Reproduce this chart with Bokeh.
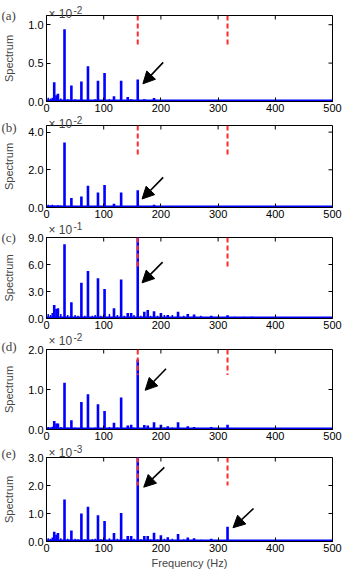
import math
from bokeh.plotting import figure
from bokeh.models import Range1d, FixedTicker, Label, Arrow, NormalHead, PrintfTickFormatter
from bokeh.layouts import column
from bokeh.embed import file_html
from bokeh.resources import INLINE

# ---------------- data ----------------
panel_tags = ["(a)", "(b)", "(c)", "(d)", "(e)"]
exponent_text = ["-2", "-2", "-1", "-2", "-3"]
y_max = [1.12, 4.35, 9.0, 2.0, 3.0]
y_ticks = [[0, 0.5, 1.0], [0, 2, 4], [0, 3, 6, 9], [0, 1, 2], [0, 1, 2, 3]]
x_ticks = [0, 100, 200, 300, 400, 500]
freq_range = [0, 500]

# harmonic peaks (Hz)
peak_freqs = [13.5, 17.5, 20, 31.5, 43.5, 61, 72.5, 90, 101.5, 118, 130.5, 142, 148,
              159.5, 171, 177, 188, 200, 212, 230, 247, 258, 288, 316.5, 359]
peaks_a = [0.25, 0.08, 0.10, 0.94, 0.21, 0.26, 0.46, 0.27, 0.37, 0.07, 0.27, 0.06, 0.03,
           0.285, 0.03, 0.02, 0.045, 0.02, 0.01, 0.02, 0.01, 0.01, 0.01, 0.01, 0.01]
peaks_b = [0.10, 0.08, 0.12, 3.45, 0.50, 0.58, 1.16, 0.80, 1.20, 0.20, 0.80, 0.05, 0.05,
           0.92, 0.03, 0.03, 0.15, 0.03, 0.02, 0.02, 0.02, 0.01, 0.01, 0.02, 0.01]
peaks_c = [1.50, 1.05, 1.15, 8.25, 1.80, 3.96, 5.27, 4.48, 3.29, 1.15, 4.33, 0.60, 0.60,
           9.50, 0.75, 0.94, 0.80, 0.60, 0.40, 0.75, 0.50, 0.45, 0.30, 0.35, 0.20]
peaks_d = [0.21, 0.15, 0.15, 1.17, 0.23, 0.69, 0.88, 0.63, 0.46, 0.17, 0.80, 0.10, 0.12,
           1.75, 0.11, 0.10, 0.18, 0.12, 0.08, 0.18, 0.08, 0.06, 0.06, 0.12, 0.03]
peaks_e = [0.35, 0.24, 0.30, 1.50, 0.39, 1.00, 1.24, 0.94, 0.73, 0.30, 1.02, 0.20, 0.20,
           3.20, 0.20, 0.20, 0.31, 0.22, 0.15, 0.27, 0.14, 0.12, 0.10, 0.53, 0.05]

# background (noise floor) components (Hz)
noise_freqs = [3, 7, 10, 25, 37, 50, 55, 67, 80, 85, 95, 110, 124, 136, 153, 165, 182,
               194, 206, 220, 240, 270, 300, 330, 345, 380, 420, 460, 490]
noise_a = [0.05, 0.04, 0.05, 0.04, 0.03, 0.03, 0.02, 0.02, 0.02, 0.03, 0.02, 0.03, 0.02,
           0.02, 0.02, 0.02, 0.02, 0.02, 0.02, 0.02, 0.01, 0.01, 0.01, 0.01, 0.01, 0.01,
           0.01, 0.01, 0.01]
noise_b = [0.15, 0.12, 0.15, 0.10, 0.08, 0.08, 0.06, 0.06, 0.06, 0.08, 0.06, 0.08, 0.06,
           0.06, 0.06, 0.05, 0.05, 0.05, 0.05, 0.05, 0.04, 0.04, 0.04, 0.04, 0.04, 0.03,
           0.03, 0.03, 0.03]
noise_c = [0.50, 0.40, 0.60, 0.50, 0.40, 0.40, 0.30, 0.30, 0.30, 0.40, 0.30, 0.50, 0.40,
           0.30, 0.40, 0.30, 0.30, 0.30, 0.40, 0.40, 0.30, 0.30, 0.20, 0.20, 0.20, 0.15,
           0.15, 0.10, 0.10]
noise_d = [0.06, 0.05, 0.07, 0.06, 0.05, 0.05, 0.04, 0.04, 0.04, 0.05, 0.04, 0.06, 0.05,
           0.04, 0.05, 0.04, 0.04, 0.04, 0.05, 0.05, 0.04, 0.04, 0.03, 0.03, 0.03, 0.02,
           0.02, 0.02, 0.02]
noise_e = [0.12, 0.10, 0.14, 0.12, 0.10, 0.10, 0.08, 0.08, 0.08, 0.10, 0.08, 0.12, 0.10,
           0.08, 0.10, 0.08, 0.08, 0.08, 0.10, 0.10, 0.08, 0.06, 0.05, 0.05, 0.05, 0.04,
           0.04, 0.03, 0.03]

peaks = [peaks_a, peaks_b, peaks_c, peaks_d, peaks_e]
noise = [noise_a, noise_b, noise_c, noise_d, noise_e]

# red dashed markers (Hz) and their lower end per panel
marker_freqs = [159.5, 316.5]
marker_bottom = [0.72, 2.76, 5.7, 1.36, 2.0]

# arrows: (tail_x, tail_y, tip_x, tip_y) per panel
arrows = [
    [(204, 0.51, 168.5, 0.23)],
    [(204, 1.60, 167, 0.45)],
    [(203, 6.27, 167, 3.96)],
    [(209, 1.52, 172.5, 0.98)],
    [(206, 2.65, 170, 1.94), (362, 1.18, 326, 0.49)],
]

# ---------------- layout / style ----------------
PAGE_W, PAGE_H = 342, 571
fig_heights = [115, 106, 111, 111, 128]
border_top = [15, 10, 16, 17, 14]
border_bottom = [14, 14, 14, 14, 29]
border_left, border_right = 45, 10
exp_gap = [2, 2, 8, 9, 5]       # baseline of exponent above frame top (px)
tag_shift = [0, 2, 0, -3, -4]   # tag centre relative to frame top (px, down)

SANS = "Liberation Sans"
SERIF = "Liberation Serif"
BLUE = "#0000ff"
RED = "#ff2a2a"

figs = []
for i in range(5):
    p = figure(width=PAGE_W, height=fig_heights[i], output_backend="svg",
               toolbar_location=None, x_range=Range1d(*freq_range),
               y_range=Range1d(0, y_max[i]), title=None,
               min_border_left=border_left, min_border_right=border_right,
               min_border_top=border_top[i], min_border_bottom=border_bottom[i])
    p.xgrid.visible = False
    p.ygrid.visible = False
    p.outline_line_color = "black"
    p.outline_line_width = 1
    p.outline_line_alpha = 1
    p.background_fill_color = "white"
    p.border_fill_color = "white"

    for ax in (p.xaxis[0], p.yaxis[0]):
        ax.major_tick_in = 4
        ax.major_tick_out = 0
        ax.minor_tick_in = 0
        ax.minor_tick_out = 0
        ax.axis_line_color = "black"
        ax.major_tick_line_color = "black"
        ax.major_label_text_font = SANS
        ax.major_label_text_font_size = "11px"
        ax.major_label_text_color = "black"
        ax.major_label_standoff = 2
    p.xaxis.ticker = FixedTicker(ticks=x_ticks)
    p.yaxis.ticker = FixedTicker(ticks=y_ticks[i])
    p.yaxis.formatter = PrintfTickFormatter(format="%.1f")
    p.yaxis.major_label_standoff = 3
    p.yaxis.axis_label = "Spectrum"
    p.yaxis.axis_label_text_font = SANS
    p.yaxis.axis_label_text_font_style = "normal"
    p.yaxis.axis_label_text_font_size = "11px"
    p.yaxis.axis_label_standoff = 10
    if i == 4:
        p.xaxis.axis_label = "Frequency (Hz)"
        p.xaxis.axis_label_text_font = SANS
        p.xaxis.axis_label_text_font_style = "normal"
        p.xaxis.axis_label_text_font_size = "11px"
        p.xaxis.axis_label_standoff = 2

    # box ticks on the top and right edges (inward)
    p.ray(x=x_ticks, y=[y_max[i]] * len(x_ticks), length=4, length_units="screen",
          angle=-math.pi / 2, line_color="black", line_width=1)
    p.ray(x=[freq_range[1]] * len(y_ticks[i]), y=y_ticks[i], length=4,
          length_units="screen", angle=math.pi, line_color="black", line_width=1)

    # spectrum
    p.segment(x0=noise_freqs, y0=[0] * len(noise_freqs), x1=noise_freqs, y1=noise[i],
              line_color=BLUE, line_width=1.5)
    p.segment(x0=peak_freqs, y0=[0] * len(peak_freqs), x1=peak_freqs, y1=peaks[i],
              line_color=BLUE, line_width=2.6)
    p.segment(x0=[freq_range[0]], y0=[0], x1=[freq_range[1]], y1=[0],
              line_color=BLUE, line_width=4)

    # red dashed markers
    p.segment(x0=marker_freqs, y0=[y_max[i]] * 2, x1=marker_freqs,
              y1=[marker_bottom[i]] * 2, line_color=RED, line_width=2,
              line_dash="5 3")

    # arrows
    for (xs, ys, xe, ye) in arrows[i]:
        p.add_layout(Arrow(x_start=xs, y_start=ys, x_end=xe, y_end=ye,
                           line_color="black", line_width=1.6,
                           end=NormalHead(size=12, fill_color="black",
                                          line_color="black")))
    figs.append(p)

panels = column(*figs, spacing=0)

# transparent overlay carrying the panel tags and the axis exponents
ov = figure(width=PAGE_W, height=PAGE_H, output_backend="svg", toolbar_location=None,
            x_range=Range1d(0, PAGE_W), y_range=Range1d(PAGE_H, 0),
            x_axis_type=None, y_axis_type=None, title=None,
            min_border=0, min_border_left=0, min_border_right=0,
            min_border_top=0, min_border_bottom=0,
            styles={"position": "absolute", "left": "0px", "top": "0px"})
ov.outline_line_color = None
ov.background_fill_color = None
ov.border_fill_color = None
ov.xgrid.visible = False
ov.ygrid.visible = False

top = 0
for i in range(5):
    frame_top = top + border_top[i]
    ov.add_layout(Label(x=1, y=frame_top + tag_shift[i], text=panel_tags[i],
                        text_font=SERIF, text_font_size="13px",
                        text_baseline="middle", text_align="left"))
    ov.add_layout(Label(x=border_left + 3, y=frame_top - exp_gap[i], text="\u00d7 10",
                        text_font=SANS, text_font_size="12px",
                        text_baseline="alphabetic", text_align="left"))
    ov.add_layout(Label(x=border_left + 28, y=frame_top - exp_gap[i] - 4,
                        text=exponent_text[i], text_font=SANS, text_font_size="10px",
                        text_baseline="alphabetic", text_align="left"))
    top += fig_heights[i]

root = column(panels, ov, spacing=0, width=PAGE_W, height=PAGE_H,
              styles={"position": "absolute", "left": "0px", "top": "0px"})

open("out.html", "w").write(file_html(root, INLINE))
